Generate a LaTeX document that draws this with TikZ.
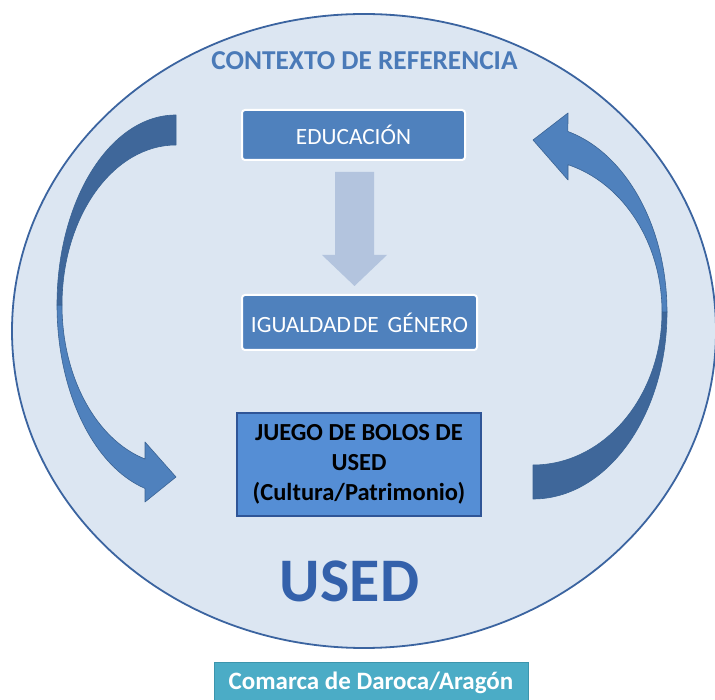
\documentclass[tikz,border=0pt]{standalone}
\usepackage{fontspec}
\setmainfont{Carlito}
\usetikzlibrary{calc}
\definecolor{ringfill}{HTML}{DCE6F2}
\definecolor{ringline}{HTML}{3B64A0}
\definecolor{boxblue}{HTML}{4F81BD}
\definecolor{juegoblue}{HTML}{558ED5}
\definecolor{juegoline}{HTML}{2F5597}
\definecolor{downfill}{HTML}{B3C4DE}
\definecolor{arrdark}{HTML}{3F679A}
\definecolor{arrlight}{HTML}{4F81BD}
\definecolor{arrline}{HTML}{3A6394}
\definecolor{titleblue}{HTML}{4A7AB8}
\definecolor{usedblue}{HTML}{3461AB}
\definecolor{tealfill}{HTML}{4BACC6}
\definecolor{tealline}{HTML}{3C95AD}
\begin{document}
\begin{tikzpicture}[x=1pt,y=1pt,
  softbox/.style={draw=white, line width=2pt, fill=boxblue, rounded corners=3pt,
    text=white, inner sep=0pt, font=\fontsize{23.3}{27}\selectfont},
  juegobox/.style={draw=juegoline, line width=1.5pt, fill=juegoblue, inner sep=0pt,
    text=black, align=center, font=\bfseries\fontsize{24.5}{30}\selectfont},
  tealbox/.style={draw=tealline, line width=1pt, fill=tealfill, inner sep=0pt,
    text=white, font=\bfseries\fontsize{25}{29}\selectfont},
  bigarrow/.style={draw=arrline, line width=0.6pt, line join=round},
  downarrow/.style={fill=downfill}
]
\useasboundingbox (0,0) rectangle (715,699);
\fill[white] (0,0) rectangle (715,699);
% context ellipse
\draw[fill=ringfill, draw=ringline, line width=1.8pt] (364,368) ellipse [x radius=352, y radius=317];
% title
\node[text=titleblue, font=\bfseries\fontsize{27.3}{31}\selectfont, inner sep=0pt] (ctx) at (364.5,638) {CONTEXTO DE REFERENCIA};
% boxes
\node[softbox, minimum width=223pt, minimum height=50pt] (edu) at (353.5,564) {EDUCACIÓN};
\node[softbox, minimum width=235pt, minimum height=55pt] (iga) at (359.5,376.5) {IGUALDAD\kern2pt DE\kern9pt GÉNERO};
\node[juegobox, minimum width=244pt, minimum height=103pt] (juego) at (359,234.5) {JUEGO DE BOLOS DE\\USED\\(Cultura/Patrimonio)};
% down arrow from EDUCACION to IGUALDAD
\fill[downarrow] ($(edu.south)+(-18.5,-11)$) -- ($(edu.south)+(20.5,-11)$)
  -- ($(edu.south)+(20.5,-94)$) -- ($(edu.south)+(33.5,-94)$)
  -- ($(iga.north)+(-5,8)$)
  -- ($(edu.south)+(-31.5,-94)$) -- ($(edu.south)+(-18.5,-94)$) -- cycle;
% left curved arrow (light lower part with head)
\filldraw[bigarrow, fill=arrlight] (57,394) arc[start angle=180, end angle=254.9, x radius=119, y radius=190]
  -- (145,197) -- (176,222) -- (145,257) -- (145,240)
  arc[start angle=254.22, end angle=180, x radius=114, y radius=160] -- cycle;
% left curved arrow (dark upper part)
\filldraw[bigarrow, fill=arrdark] (176,584) arc[start angle=90, end angle=180, x radius=119, y radius=190]
  -- (62,394) arc[start angle=180, end angle=90, x radius=114, y radius=160] -- cycle;
% right curved arrow (dark lower part)
\filldraw[bigarrow, fill=arrdark] (533,200) arc[start angle=270, end angle=360, x radius=134, y radius=187]
  -- (662,387) arc[start angle=360, end angle=270, x radius=129, y radius=153] -- cycle;
% right curved arrow (light upper part with head)
\filldraw[bigarrow, fill=arrlight] (667,387) arc[start angle=0, end angle=74.9, x radius=134, y radius=187]
  -- (568,586) -- (533,559) -- (568,519) -- (568,534.3)
  arc[start angle=74.26, end angle=0, x radius=129, y radius=153] -- cycle;
% USED
\node[text=usedblue, font=\bfseries\fontsize{62}{70}\selectfont, inner sep=0pt] (used) at (349.5,118) {USED};
% bottom label
\node[tealbox, minimum width=314pt, minimum height=40pt] (com) at (371,16) {Comarca de Daroca/Aragón};
\end{tikzpicture}
\end{document}
